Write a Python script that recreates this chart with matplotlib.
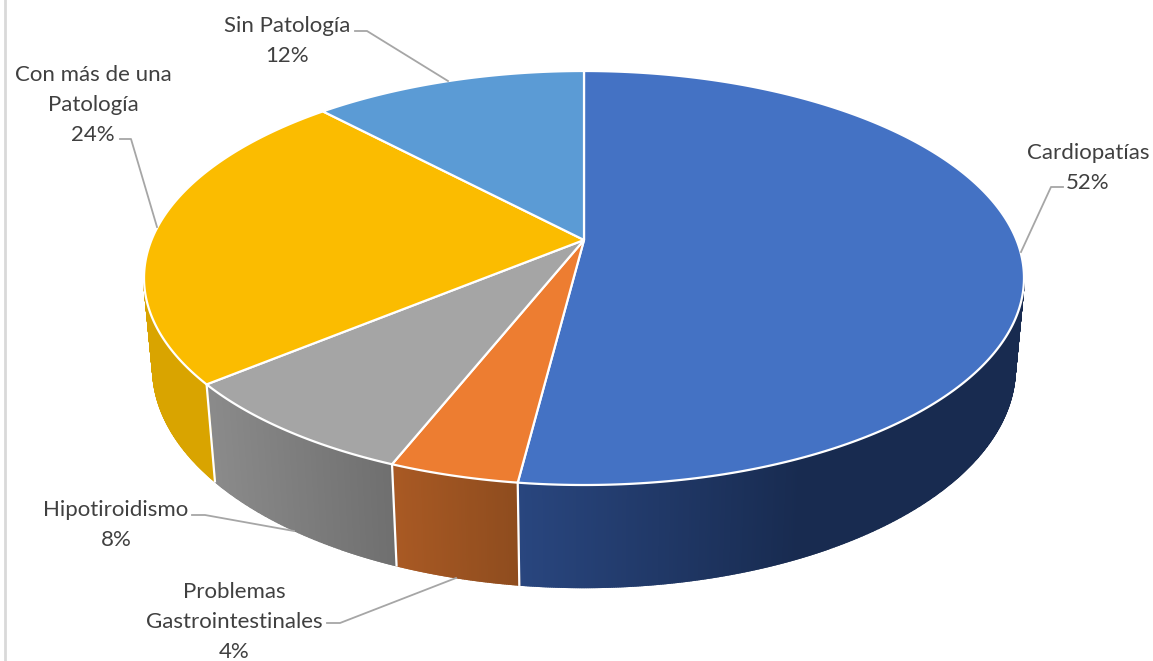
import numpy as np
from matplotlib import pyplot as plt
from matplotlib.patches import Polygon
from matplotlib.colors import to_rgb

names = ['Cardiopatías', 'Problemas\nGastrointestinales', 'Hipotiroidismo',
         'Con más de una\nPatología', 'Sin Patología']
values = [52, 4, 8, 24, 12]

top_colors = ['#4472c4', '#ed7d31', '#a5a5a5', '#fbbc00', '#5b9bd5']
# wall shading, left end / right end of each slice
wall_left = ['#29467f', '#aa5a24', '#8c8c8c', '#d9a400', '#3a6a9c']
wall_right = ['#182b50', '#8e4c1e', '#6f6f6f', '#d9a400', '#3a6a9c']

label_pos = [(1088, 168), (234, 622), (116, 525), (93, 105), (287, 41)]
leaders = [[(1063, 187), (1051, 187), (1021, 252)],
           [(327, 623), (340, 623), (456, 578)],
           [(192, 515), (205, 515), (294, 531)],
           [(120, 139), (131, 139), (157, 227)],
           [(355, 31), (367, 31), (448, 81)]]

# part of the rim that has a visible wall under it
front_start, front_end = 0.279, 0.721


def project(frac, r=1.0, low=False):
    # perspective view of the round pie, frac runs clockwise from 12 o'clock
    t = 2 * np.pi * np.asarray(frac)
    x = r * np.sin(t)
    y = r * np.cos(t)
    d = 0.02 if low else 0.0
    e = -89.7 if low else 0.0
    w = 1 + 0.1836 * y + d
    return 584 + 432.5 * x / w, 278 - (207 * y + 38 + e) / w


fig = plt.figure(figsize=(11.53, 6.61), dpi=100)
ax = fig.add_axes([0, 0, 1, 1])
ax.set_xlim(0, 1153)
ax.set_ylim(661, 0)
ax.axis('off')

ax.plot([5, 5], [0, 661], color='#d9d9d9', lw=2)

edges = np.cumsum([0] + values) / sum(values)

# side walls first, the top face goes over their upper edge
for i in range(len(values)):
    f0, f1 = max(edges[i], front_start), min(edges[i + 1], front_end)
    if f1 <= f0:
        continue
    n = max(int((f1 - f0) * 1500), 8)
    f = np.linspace(f0, f1, n + 1)
    xt, yt = project(f)
    xb, yb = project(f, low=True)
    c0 = np.array(to_rgb(wall_left[i]))
    c1 = np.array(to_rgb(wall_right[i]))
    xmin, xmax = min(xt.min(), xb.min()), max(xt.max(), xb.max())
    # the big slice reaches its dark colour well before the right end
    span = (xmax - xmin) * (0.55 if i == 0 else 1.0)
    for j in range(n):
        s = np.clip((0.5 * (xb[j] + xb[j + 1]) - xmin) / span, 0, 1)
        col = c0 + (c1 - c0) * s
        ax.add_patch(Polygon([(xt[j], yt[j]), (xt[j + 1], yt[j + 1]),
                              (xb[j + 1], yb[j + 1]), (xb[j], yb[j])],
                             closed=True, fc=col, ec=col, lw=1.3, zorder=2))

for e in edges:
    if front_start < e < front_end:
        xt, yt = project(e)
        xb, yb = project(e, low=True)
        ax.plot([xt, xb], [yt, yb], color='white', lw=1.6, zorder=3)

for i in range(len(values)):
    f = np.linspace(edges[i], edges[i + 1], 300)
    xt, yt = project(f)
    xc, yc = project(0.0, r=0.0)
    pts = [(xc, yc)] + list(zip(xt, yt))
    ax.add_patch(Polygon(pts, closed=True, fc=top_colors[i], ec='white',
                         lw=1.6, joinstyle='round', zorder=4))

for name, v, pos, line in zip(names, values, label_pos, leaders):
    ax.text(pos[0], pos[1], f'{name}\n{v}%', ha='center', va='center',
            fontsize=16, family='Lato', color='#404040', linespacing=1.6,
            zorder=6)
    ax.plot(*zip(*line), color='#a6a6a6', lw=1.3, zorder=5)

plt.savefig('out.png', dpi=100)
